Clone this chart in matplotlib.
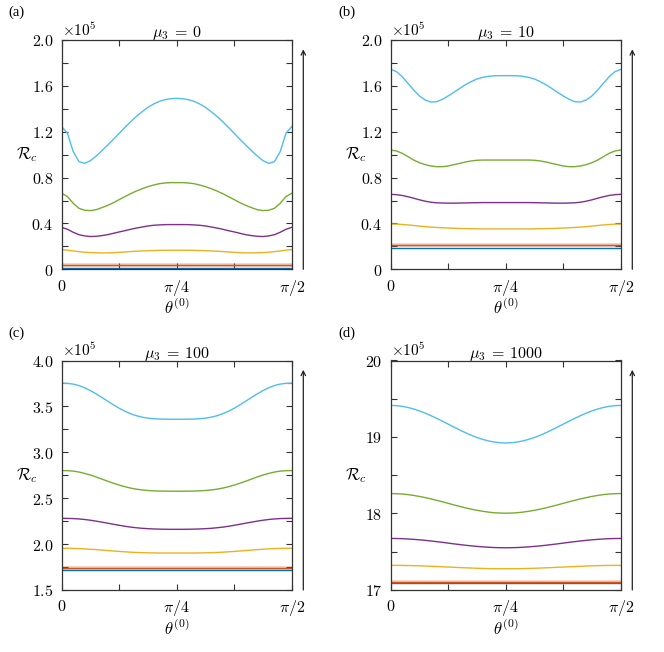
import numpy as np
import matplotlib
matplotlib.use("Agg")
import matplotlib.pyplot as plt

plt.rcParams['mathtext.fontset'] = 'cm'
plt.rcParams['font.family'] = ['DejaVu Serif']

# theta samples: 41 points from 0 to pi/2
theta = np.linspace(0, np.pi / 2, 41)

colors = ['#0072BD', '#D95319', '#EDB120', '#7E2F8E', '#77AC30', '#4DBEEE']

# ---------------- Panel (a): mu3 = 0 (units of 1e5) ----------------
a_blue = [0.015] * 41
a_red = [0.036] * 41
a_yellow = [0.172, 0.167, 0.160, 0.154, 0.149, 0.146, 0.144, 0.143, 0.143, 0.145, 0.148,
            0.151, 0.155, 0.158, 0.160, 0.162, 0.164, 0.165, 0.166, 0.166, 0.166,
            0.166, 0.166, 0.165, 0.164, 0.162, 0.160, 0.158, 0.155, 0.151, 0.148,
            0.145, 0.143, 0.143, 0.144, 0.146, 0.149, 0.154, 0.160, 0.167, 0.172]
a_purple = [0.366, 0.349, 0.323, 0.302, 0.291, 0.286, 0.288, 0.294, 0.302, 0.314, 0.326,
            0.337, 0.349, 0.360, 0.369, 0.378, 0.384, 0.387, 0.390, 0.390, 0.390,
            0.390, 0.390, 0.387, 0.384, 0.378, 0.369, 0.360, 0.349, 0.337, 0.326,
            0.314, 0.302, 0.294, 0.288, 0.286, 0.291, 0.302, 0.323, 0.349, 0.366]
a_green = [0.663, 0.634, 0.576, 0.532, 0.515, 0.512, 0.520, 0.538, 0.558, 0.581, 0.608,
           0.634, 0.660, 0.683, 0.703, 0.721, 0.735, 0.747, 0.753, 0.756, 0.756,
           0.756, 0.753, 0.747, 0.735, 0.721, 0.703, 0.683, 0.660, 0.634, 0.608,
           0.581, 0.558, 0.538, 0.520, 0.512, 0.515, 0.532, 0.576, 0.634, 0.663]
a_cyan = [1.244, 1.186, 1.026, 0.939, 0.924, 0.948, 0.988, 1.035, 1.084, 1.134, 1.186,
          1.238, 1.288, 1.334, 1.375, 1.413, 1.442, 1.465, 1.480, 1.488, 1.491,
          1.488, 1.480, 1.465, 1.442, 1.413, 1.375, 1.334, 1.288, 1.238, 1.186,
          1.134, 1.084, 1.035, 0.988, 0.948, 0.924, 0.939, 1.026, 1.186, 1.244]

# ---------------- Panel (b): mu3 = 10 ----------------
b_blue = [0.189] * 41
b_red = [0.212] * 41
b_yellow = [0.395, 0.394, 0.391, 0.387, 0.382, 0.377, 0.372, 0.368, 0.365, 0.362, 0.360,
            0.358, 0.356, 0.355, 0.354, 0.353, 0.352, 0.352, 0.352, 0.352, 0.352,
            0.352, 0.352, 0.352, 0.352, 0.353, 0.354, 0.355, 0.356, 0.358, 0.360,
            0.362, 0.365, 0.368, 0.372, 0.377, 0.382, 0.387, 0.391, 0.394, 0.395]
b_purple = [0.654, 0.651, 0.644, 0.633, 0.620, 0.606, 0.594, 0.585, 0.580, 0.578, 0.577,
            0.577, 0.578, 0.579, 0.580, 0.581, 0.582, 0.582, 0.582, 0.582, 0.582,
            0.582, 0.582, 0.582, 0.582, 0.581, 0.580, 0.579, 0.578, 0.577, 0.577,
            0.578, 0.580, 0.585, 0.594, 0.606, 0.620, 0.633, 0.644, 0.651, 0.654]
b_green = [1.041, 1.032, 1.012, 0.983, 0.953, 0.930, 0.913, 0.901, 0.895, 0.895, 0.901,
           0.913, 0.924, 0.936, 0.945, 0.951, 0.953, 0.953, 0.953, 0.953, 0.953,
           0.953, 0.953, 0.953, 0.953, 0.951, 0.945, 0.936, 0.924, 0.913, 0.901,
           0.895, 0.895, 0.901, 0.913, 0.930, 0.953, 0.983, 1.012, 1.032, 1.041]
b_cyan = [1.744, 1.724, 1.680, 1.622, 1.564, 1.512, 1.477, 1.459, 1.462, 1.483, 1.512,
          1.544, 1.578, 1.610, 1.637, 1.660, 1.674, 1.683, 1.688, 1.689, 1.689,
          1.689, 1.688, 1.683, 1.674, 1.660, 1.637, 1.610, 1.578, 1.544, 1.512,
          1.483, 1.462, 1.459, 1.477, 1.512, 1.564, 1.622, 1.680, 1.724, 1.744]

# ---------------- Panel (c): mu3 = 100 ----------------
c_blue = [1.715] * 41
c_red = [1.737] * 41
c_yellow = [1.954, 1.954, 1.953, 1.951, 1.948, 1.944, 1.940, 1.935, 1.930, 1.925, 1.920,
            1.916, 1.912, 1.909, 1.907, 1.905, 1.904, 1.903, 1.903, 1.903, 1.903,
            1.903, 1.903, 1.903, 1.904, 1.905, 1.907, 1.909, 1.912, 1.916, 1.920,
            1.925, 1.930, 1.935, 1.940, 1.944, 1.948, 1.951, 1.953, 1.954, 1.954]
c_purple = [2.281, 2.280, 2.278, 2.274, 2.268, 2.260, 2.250, 2.239, 2.228, 2.216, 2.205,
            2.194, 2.185, 2.178, 2.172, 2.168, 2.165, 2.163, 2.162, 2.161, 2.161,
            2.161, 2.162, 2.163, 2.165, 2.168, 2.172, 2.178, 2.185, 2.194, 2.205,
            2.216, 2.228, 2.239, 2.250, 2.260, 2.268, 2.274, 2.278, 2.280, 2.281]
c_green = [2.801, 2.800, 2.795, 2.785, 2.770, 2.752, 2.731, 2.708, 2.685, 2.663, 2.643,
           2.625, 2.610, 2.598, 2.590, 2.584, 2.580, 2.578, 2.577, 2.576, 2.576,
           2.576, 2.577, 2.578, 2.580, 2.584, 2.590, 2.598, 2.610, 2.625, 2.643,
           2.663, 2.685, 2.708, 2.731, 2.752, 2.770, 2.785, 2.795, 2.800, 2.801]
c_cyan = [3.753, 3.751, 3.743, 3.727, 3.703, 3.672, 3.636, 3.597, 3.557, 3.517, 3.480,
          3.447, 3.420, 3.398, 3.383, 3.372, 3.366, 3.362, 3.361, 3.360, 3.360,
          3.360, 3.361, 3.362, 3.366, 3.372, 3.383, 3.398, 3.420, 3.447, 3.480,
          3.517, 3.557, 3.597, 3.636, 3.672, 3.703, 3.727, 3.743, 3.751, 3.753]

# ---------------- Panel (d): mu3 = 1000 ----------------
d_blue = [17.087] * 41
d_red = [17.109] * 41
d_yellow = [17.322, 17.322, 17.321, 17.320, 17.318, 17.316, 17.313, 17.310, 17.307, 17.303, 17.300,
            17.297, 17.293, 17.290, 17.287, 17.284, 17.282, 17.280, 17.279, 17.278, 17.278,
            17.278, 17.279, 17.280, 17.282, 17.284, 17.287, 17.290, 17.293, 17.297, 17.300,
            17.303, 17.307, 17.310, 17.313, 17.316, 17.318, 17.320, 17.321, 17.322, 17.322]
d_purple = [17.674, 17.673, 17.671, 17.667, 17.662, 17.656, 17.649, 17.641, 17.632, 17.623, 17.613,
            17.603, 17.594, 17.585, 17.577, 17.570, 17.564, 17.559, 17.555, 17.553, 17.552,
            17.553, 17.555, 17.559, 17.564, 17.570, 17.577, 17.585, 17.594, 17.603, 17.613,
            17.623, 17.632, 17.641, 17.649, 17.656, 17.662, 17.667, 17.671, 17.673, 17.674]
d_green = [18.261, 18.259, 18.255, 18.247, 18.236, 18.223, 18.208, 18.191, 18.172, 18.153, 18.133,
           18.112, 18.093, 18.074, 18.057, 18.042, 18.029, 18.018, 18.010, 18.006, 18.004,
           18.006, 18.010, 18.018, 18.029, 18.042, 18.057, 18.074, 18.093, 18.112, 18.133,
           18.153, 18.172, 18.191, 18.208, 18.223, 18.236, 18.247, 18.255, 18.259, 18.261]
d_cyan = [19.413, 19.410, 19.401, 19.386, 19.366, 19.341, 19.312, 19.279, 19.243, 19.206, 19.168,
          19.129, 19.092, 19.056, 19.023, 18.994, 18.969, 18.949, 18.934, 18.925, 18.922,
          18.925, 18.934, 18.949, 18.969, 18.994, 19.023, 19.056, 19.092, 19.129, 19.168,
          19.206, 19.243, 19.279, 19.312, 19.341, 19.366, 19.386, 19.401, 19.410, 19.413]

panels = [
    ('(a)', r'$\mu_3\:=\:0$', [a_blue, a_red, a_yellow, a_purple, a_green, a_cyan],
     (0, 2.0), np.arange(0, 2.01, 0.2), ['0', '', '0.4', '', '0.8', '', '1.2', '', '1.6', '', '2.0']),
    ('(b)', r'$\mu_3\:=\:10$', [b_blue, b_red, b_yellow, b_purple, b_green, b_cyan],
     (0, 2.0), np.arange(0, 2.01, 0.2), ['0', '', '0.4', '', '0.8', '', '1.2', '', '1.6', '', '2.0']),
    ('(c)', r'$\mu_3\:=\:100$', [c_blue, c_red, c_yellow, c_purple, c_green, c_cyan],
     (1.5, 4.0), np.arange(1.5, 4.01, 0.25), ['1.5', '', '2.0', '', '2.5', '', '3.0', '', '3.5', '', '4.0']),
    ('(d)', r'$\mu_3\:=\:1000$', [d_blue, d_red, d_yellow, d_purple, d_green, d_cyan],
     (17, 20), np.arange(17, 20.01, 0.5), ['17', '', '18', '', '19', '', '20']),
]

W, H = 664, 652
fig = plt.figure(figsize=(W / 100, H / 100), dpi=100)

# pixel boxes: (left, top, right, bottom)
boxes = [(61.7, 40, 291.7, 269.3), (390.7, 40, 620.7, 269.3),
         (61.7, 360.5, 291.7, 590), (390.7, 360.5, 620.7, 590)]
label_pos = [(8, 12), (338, 12), (8, 333), (338, 333)]

xt = [0, np.pi / 8, np.pi / 4, 3 * np.pi / 8, np.pi / 2]
xtl = [r'$0$', '', r'$\pi/4$', '', r'$\pi/2$']
axcol = '#333333'

for i, (lab, title, series, ylim, yt, ytl) in enumerate(panels):
    l, t, r, b = boxes[i]
    ax = fig.add_axes([l / W, 1 - b / H, (r - l) / W, (b - t) / H])
    for k, (vals, col) in enumerate(zip(series, colors)):
        if k == 1:
            ax.plot(theta, vals, color=col, lw=2.6, alpha=0.3, solid_capstyle='butt')
        ax.plot(theta, vals, color=col, lw=1.0)
    ax.set_xlim(0, np.pi / 2)
    ax.set_ylim(*ylim)
    ax.set_xticks(xt)
    ax.set_xticklabels(xtl)
    ax.set_yticks(yt)
    ax.set_yticklabels([('$' + s + '$') if s else '' for s in ytl])
    ax.tick_params(direction='in', top=True, right=True, length=4, width=0.8,
                   color=axcol, labelsize=11.5, pad=6)
    for sp in ax.spines.values():
        sp.set_color(axcol)
        sp.set_linewidth(0.9)
    ax.set_xlabel(r'$\theta^{(0)}$', fontsize=12, labelpad=0)
    ax.set_ylabel(r'$\mathcal{R}_c$', fontsize=12, rotation=0, va='center')
    ax.yaxis.set_label_coords(-0.15, 0.5)
    ax.set_title(title, fontsize=11.5, pad=2)
    ax.text(0.0, 1.005, r'$\times 10^5$', transform=ax.transAxes, fontsize=11,
            ha='left', va='bottom')
    # panel label
    fig.text(label_pos[i][0] / W, 1 - label_pos[i][1] / H, lab, fontsize=10.5,
             family='Liberation Serif', ha='left', va='center')
    # arrow on the right
    ax_x = r + 11.6
    ax.annotate('', xy=(ax_x / W, 1 - (t + 9.3) / H), xytext=(ax_x / W, 1 - b / H),
                xycoords='figure fraction', textcoords='figure fraction',
                arrowprops=dict(arrowstyle='->', color='#222222', lw=0.9,
                                shrinkA=0, shrinkB=0, mutation_scale=8))

fig.savefig('out.png', dpi=100)
